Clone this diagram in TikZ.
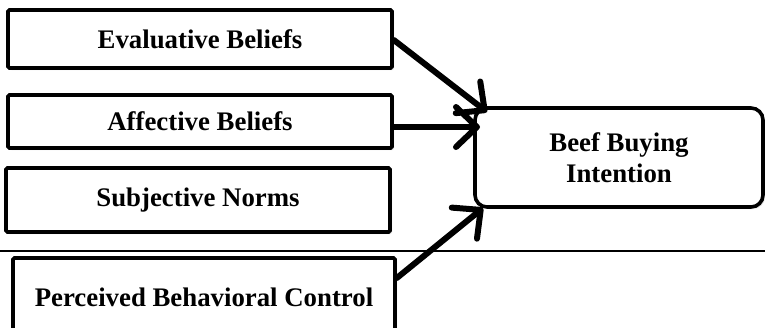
\documentclass[tikz,border=0pt]{standalone}
\usepackage{fontspec}
\setmainfont{Liberation Serif}
\usetikzlibrary{arrows.meta,calc,positioning,shadows}

\begin{document}
\begin{tikzpicture}[x=1pt,y=-1pt,
  >={Straight Barb[length=21pt,width=40pt,line width=6pt,round]},
  factor/.style={draw,line width=3.6pt,rounded corners=1.5pt,inner sep=0pt,
    minimum width=384pt,font=\fontsize{26.8}{31}\selectfont\bfseries,
    drop shadow={opacity=0.25,shadow xshift=2pt,shadow yshift=-2pt},fill=white},
  target/.style={factor,minimum width=288pt,minimum height=99pt,rounded corners=12pt,
    align=center},
  link/.style={->,line width=6pt,line cap=round}]
  \useasboundingbox (0,0) rectangle (765,327);
  \clip (0,0) rectangle (765,327);
  % 説明変数
  \node[factor,minimum height=58pt] (eval) at (200,39) {Evaluative Beliefs};
  \node[factor,minimum height=53pt] (aff) at (200,121.5) {Affective Beliefs};
  \node[factor,minimum height=64pt] (subj) at (198,200) {Subjective Norms};
  % 区切り線
  \draw[line width=1.5pt] (0,251) -- (765,251);
  \node[factor,minimum width=382pt,minimum height=78pt] (pbc) at (204,297) {Perceived Behavioral Control};
  % 目的変数
  \node[target] (beef) at (619,157.5) {Beef Buying\\Intention};
  \coordinate (in1) at (487,112);
  \coordinate (in2) at (480,127);
  \coordinate (in3) at (483,208);
  % 矢印
  \draw[link] ([yshift=-1pt]eval.east) -- (in1);
  \draw[link] ([yshift=-5.5pt]aff.east) -- (in2);
  \draw[link] ([yshift=19pt]pbc.east) -- (in3);
\end{tikzpicture}
\end{document}
